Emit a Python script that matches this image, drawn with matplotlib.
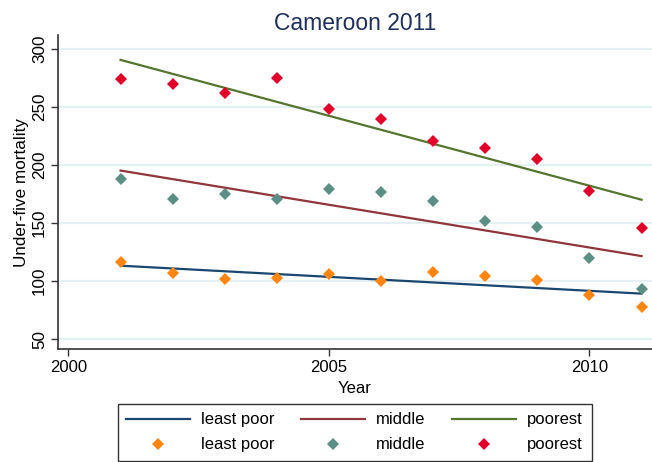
import numpy as np
import matplotlib
matplotlib.use("Agg")
import matplotlib.pyplot as plt
from matplotlib.lines import Line2D

plt.rcParams['font.family'] = ['Liberation Sans', 'DejaVu Sans']

years = [2001, 2002, 2003, 2004, 2005, 2006, 2007, 2008, 2009, 2010, 2011]
least_poor = [116, 107, 102, 103, 106, 100, 108, 104, 101, 88, 78]
middle = [188, 171, 175, 171, 179, 177, 169, 152, 147, 120, 93]
poorest = [274, 270, 262, 275, 248, 240, 221, 215, 205, 178, 146]

groups = ["least poor", "middle", "poorest"]
line_colors = ["#1a476f", "#90353b", "#55752f"]
marker_colors = ["#ff8410", "#5b8e84", "#e2002a"]
y_ticks = [50, 100, 150, 200, 250, 300]
x_ticks = [2000, 2005, 2010]

fig = plt.figure(figsize=(6.52, 4.62), dpi=100)
ax = fig.add_axes([0.089, 0.2446, 0.911, 0.6794])

x = np.array(years, dtype=float)
series = [least_poor, middle, poorest]

# linear fit line for each wealth group
for vals, lc in zip(series, line_colors):
    slope, intercept = np.polyfit(x, np.array(vals, dtype=float), 1)
    ax.plot(x, slope * x + intercept, color=lc, lw=1.6, zorder=3)

# observed values
for vals, mc in zip(series, marker_colors):
    ax.plot(x, vals, linestyle='none', marker='D', markersize=6.5,
            color=mc, markeredgewidth=0, zorder=4)

ax.set_xlim(1999.8, 2011.2)
ax.set_ylim(41.4, 312)
ax.set_yticks(y_ticks)
ax.set_xticks(x_ticks)
ax.set_yticklabels([str(v) for v in y_ticks], rotation=90, va='center', fontsize=12.3)
ax.set_xticklabels([str(v) for v in x_ticks], fontsize=12)
ax.yaxis.grid(True, color='#e6eff1', lw=1.6)
ax.set_axisbelow(True)
ax.tick_params(axis='both', direction='out', length=5, width=1, color='#333333', pad=3)
for side in ['top', 'right']:
    ax.spines[side].set_visible(False)
for side in ['left', 'bottom']:
    ax.spines[side].set_color('#333333')
    ax.spines[side].set_linewidth(1.2)

ax.set_xlabel("Year", fontsize=12, labelpad=4)
ax.set_ylabel("Under-five mortality", fontsize=12.3, labelpad=2)
ax.set_title("Cameroon 2011", fontsize=16.5, color='#1e2f5e', pad=4)

handles = []
labels = []
for g, lc, mc in zip(groups, line_colors, marker_colors):
    handles.append(Line2D([], [], color=lc, lw=1.6))
    labels.append(g)
    handles.append(Line2D([], [], linestyle='none', marker='D', markersize=6.5,
                          color=mc, markeredgewidth=0))
    labels.append(g)

leg = fig.legend(handles, labels, ncol=3, loc='upper center',
                 bbox_to_anchor=(0.544, 1 - 404 / 462), bbox_transform=fig.transFigure,
                 fontsize=12, frameon=True, fancybox=False, handlelength=3.8,
                 columnspacing=1.6, handletextpad=0.7, labelspacing=0.6,
                 borderpad=0.5, borderaxespad=0)
leg.get_frame().set_edgecolor('black')
leg.get_frame().set_linewidth(1.0)

fig.savefig("out.png", dpi=100)
